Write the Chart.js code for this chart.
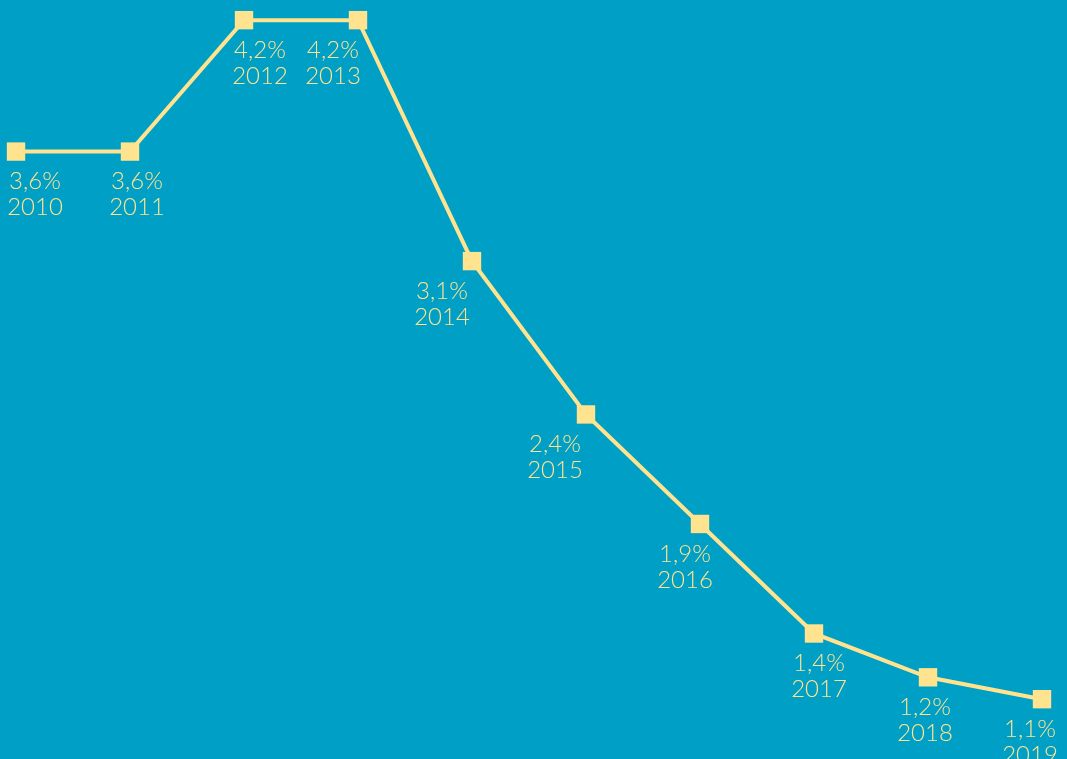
<!DOCTYPE html>
<html>
<head>
<meta charset="utf-8">
<script src="https://cdn.jsdelivr.net/npm/chart.js@4"></script>
<style>
  html, body { margin: 0; padding: 0; background: #009fc6; }
  #wrap { width: 1067px; height: 759px; }
</style>
</head>
<body>
<div id="wrap"><canvas id="lineChart"></canvas></div>
<script>
const years = ["2010", "2011", "2012", "2013", "2014", "2015", "2016", "2017", "2018", "2019"];
const rates = [3.6, 3.6, 4.2, 4.2, 3.1, 2.4, 1.9, 1.4, 1.2, 1.1];

const yellow = "#ffe38f";

// horizontal nudges of the labels under each point
const labelShift = [19, 7, 16, -25, -30, -31, -15, 5, -3, -12];

function fmt(v) {
  return v.toFixed(1).replace(".", ",") + "%";
}

const pointLabels = {
  id: "pointLabels",
  afterDatasetsDraw(chart) {
    const ctx = chart.ctx;
    const meta = chart.getDatasetMeta(0);
    ctx.save();
    ctx.fillStyle = yellow;
    ctx.font = "300 24px Lato, 'Noto Sans', sans-serif";
    ctx.textAlign = "center";
    ctx.textBaseline = "middle";
    meta.data.forEach((pt, i) => {
      const x = pt.x + labelShift[i];
      ctx.fillText(fmt(rates[i]), x, pt.y + 30);
      ctx.fillText(years[i], x, pt.y + 56);
    });
    ctx.restore();
  }
};

new Chart(document.getElementById("lineChart"), {
  type: "line",
  data: {
    labels: years,
    datasets: [{
      data: rates,
      borderColor: yellow,
      borderWidth: 4,
      pointStyle: "rect",
      pointRadius: 13,
      pointBackgroundColor: yellow,
      pointBorderWidth: 0,
      tension: 0,
      clip: false
    }]
  },
  options: {
    responsive: true,
    maintainAspectRatio: false,
    animation: false,
    layout: { autoPadding: false, padding: { left: 16, right: 25, top: 0, bottom: 0 } },
    plugins: { legend: { display: false }, tooltip: { enabled: false } },
    scales: {
      x: { display: false, offset: false },
      y: { display: false, min: 0.827, max: 4.292 }
    }
  },
  plugins: [pointLabels]
});
</script>
</body>
</html>
